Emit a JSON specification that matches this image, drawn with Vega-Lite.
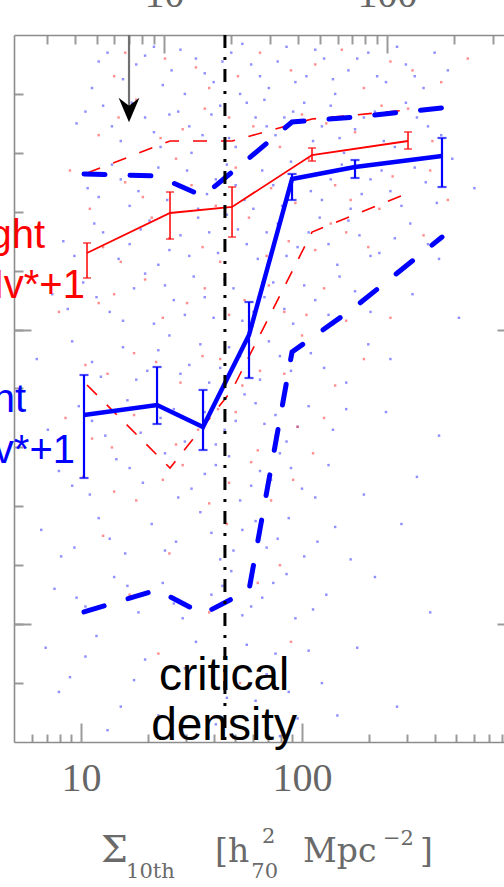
{
"$schema":"https://vega.github.io/schema/vega-lite/v6.json",
"autosize":"none","width":490,"height":707,
"padding":{"left":14,"top":35,"right":0,"bottom":145},
"background":"white",
"config":{"view":{"stroke":null},"axis":{"domainColor":"#8c8c8c","domainWidth":1.6,"tickColor":"#9a9a9a","tickWidth":2,"grid":false,"title":null}},
"data":{"values":[{}]},
"datasets":{
"dots":[
{"g":"b","lx":1.12,"y":1.47},{"g":"b","lx":1.25,"y":1.45},{"g":"b","lx":1.33,"y":1.48},{"g":"b","lx":1.41,"y":1.44},{"g":"b","lx":1.52,"y":1.46},{"g":"b","lx":1.60,"y":1.42},{"g":"b","lx":1.68,"y":1.47},{"g":"b","lx":1.77,"y":1.45},{"g":"b","lx":1.85,"y":1.41},{"g":"b","lx":1.93,"y":1.48},{"g":"b","lx":2.02,"y":1.43},{"g":"b","lx":2.10,"y":1.46},{"g":"b","lx":2.21,"y":1.44},{"g":"b","lx":2.30,"y":1.47},{"g":"b","lx":2.38,"y":1.42},{"g":"b","lx":2.47,"y":1.45},{"g":"b","lx":2.55,"y":1.41},{"g":"b","lx":1.05,"y":1.41},{"g":"b","lx":1.47,"y":1.40},{"g":"b","lx":1.72,"y":1.40},{"g":"b","lx":2.15,"y":1.40},{"g":"b","lx":2.60,"y":1.47},
{"g":"b","lx":0.98,"y":1.35},{"g":"b","lx":1.10,"y":1.38},{"g":"b","lx":1.18,"y":1.32},{"g":"b","lx":1.29,"y":1.36},{"g":"b","lx":1.36,"y":1.31},{"g":"b","lx":1.44,"y":1.37},{"g":"b","lx":1.55,"y":1.33},{"g":"b","lx":1.63,"y":1.38},{"g":"b","lx":1.70,"y":1.31},{"g":"b","lx":1.79,"y":1.36},{"g":"b","lx":1.88,"y":1.33},{"g":"b","lx":1.96,"y":1.37},{"g":"b","lx":2.05,"y":1.32},{"g":"b","lx":2.13,"y":1.38},{"g":"b","lx":2.24,"y":1.34},{"g":"b","lx":2.33,"y":1.37},{"g":"b","lx":2.42,"y":1.31},{"g":"b","lx":2.52,"y":1.36},{"g":"b","lx":2.63,"y":1.33},{"g":"b","lx":1.50,"y":1.30},{"g":"b","lx":1.83,"y":1.39},{"g":"b","lx":2.19,"y":1.30},
{"g":"b","lx":1.03,"y":1.24},{"g":"b","lx":1.14,"y":1.28},{"g":"b","lx":1.22,"y":1.21},{"g":"b","lx":1.31,"y":1.26},{"g":"b","lx":1.39,"y":1.22},{"g":"b","lx":1.48,"y":1.27},{"g":"b","lx":1.57,"y":1.23},{"g":"b","lx":1.66,"y":1.28},{"g":"b","lx":1.74,"y":1.22},{"g":"b","lx":1.82,"y":1.27},{"g":"b","lx":1.91,"y":1.21},{"g":"b","lx":2.00,"y":1.26},{"g":"b","lx":2.09,"y":1.22},{"g":"b","lx":2.18,"y":1.28},{"g":"b","lx":2.27,"y":1.23},{"g":"b","lx":2.36,"y":1.27},{"g":"b","lx":2.45,"y":1.21},{"g":"b","lx":2.56,"y":1.25},{"g":"b","lx":2.68,"y":1.29},{"g":"b","lx":2.78,"y":1.24},
{"g":"b","lx":0.92,"y":1.15},{"g":"b","lx":1.06,"y":1.18},{"g":"b","lx":1.17,"y":1.12},{"g":"b","lx":1.27,"y":1.17},{"g":"b","lx":1.35,"y":1.11},{"g":"b","lx":1.45,"y":1.16},{"g":"b","lx":1.53,"y":1.19},{"g":"b","lx":1.62,"y":1.13},{"g":"b","lx":1.71,"y":1.17},{"g":"b","lx":1.80,"y":1.12},{"g":"b","lx":1.89,"y":1.18},{"g":"b","lx":1.98,"y":1.14},{"g":"b","lx":2.08,"y":1.19},{"g":"b","lx":2.16,"y":1.11},{"g":"b","lx":2.26,"y":1.16},{"g":"b","lx":2.35,"y":1.13},{"g":"b","lx":2.49,"y":1.18},{"g":"b","lx":2.62,"y":1.12},
{"g":"b","lx":0.87,"y":1.06},{"g":"b","lx":1.01,"y":1.08},{"g":"b","lx":1.13,"y":1.03},{"g":"b","lx":1.24,"y":1.07},{"g":"b","lx":1.33,"y":1.01},{"g":"b","lx":1.42,"y":1.05},{"g":"b","lx":1.51,"y":1.09},{"g":"b","lx":1.60,"y":1.02},{"g":"b","lx":1.69,"y":1.07},{"g":"b","lx":1.78,"y":1.03},{"g":"b","lx":1.87,"y":1.08},{"g":"b","lx":1.96,"y":1.01},{"g":"b","lx":2.06,"y":1.05},{"g":"b","lx":2.17,"y":1.09},{"g":"b","lx":2.31,"y":1.03},{"g":"b","lx":2.50,"y":1.06},{"g":"b","lx":2.71,"y":1.02},
{"g":"b","lx":0.80,"y":0.95},{"g":"b","lx":0.96,"y":0.98},{"g":"b","lx":1.09,"y":0.92},{"g":"b","lx":1.19,"y":0.97},{"g":"b","lx":1.30,"y":0.93},{"g":"b","lx":1.40,"y":0.99},{"g":"b","lx":1.49,"y":0.94},{"g":"b","lx":1.58,"y":0.91},{"g":"b","lx":1.67,"y":0.97},{"g":"b","lx":1.76,"y":0.92},{"g":"b","lx":1.85,"y":0.98},{"g":"b","lx":1.95,"y":0.93},{"g":"b","lx":2.04,"y":0.96},{"g":"b","lx":2.20,"y":0.91},{"g":"b","lx":2.40,"y":0.95},
{"g":"b","lx":0.85,"y":0.83},{"g":"b","lx":0.99,"y":0.87},{"g":"b","lx":1.11,"y":0.82},{"g":"b","lx":1.21,"y":0.88},{"g":"b","lx":1.36,"y":0.85},{"g":"b","lx":1.47,"y":0.81},{"g":"b","lx":1.56,"y":0.86},{"g":"b","lx":1.65,"y":0.83},{"g":"b","lx":1.74,"y":0.89},{"g":"b","lx":1.83,"y":0.84},{"g":"b","lx":1.93,"y":0.81},{"g":"b","lx":2.03,"y":0.87},{"g":"b","lx":2.14,"y":0.83},{"g":"b","lx":2.38,"y":0.86},{"g":"b","lx":2.62,"y":0.82},
{"g":"b","lx":0.90,"y":0.76},{"g":"b","lx":1.04,"y":0.72},{"g":"b","lx":1.16,"y":0.78},{"g":"b","lx":1.28,"y":0.74},{"g":"b","lx":1.38,"y":0.79},{"g":"b","lx":1.50,"y":0.73},{"g":"b","lx":1.61,"y":0.77},{"g":"b","lx":1.72,"y":0.71},{"g":"b","lx":1.81,"y":0.76},{"g":"b","lx":1.90,"y":0.79},{"g":"b","lx":2.00,"y":0.73},{"g":"b","lx":2.12,"y":0.77},{"g":"b","lx":2.28,"y":0.72},{"g":"b","lx":2.52,"y":0.75},
{"g":"b","lx":0.82,"y":0.66},{"g":"b","lx":0.97,"y":0.63},{"g":"b","lx":1.08,"y":0.68},{"g":"b","lx":1.20,"y":0.62},{"g":"b","lx":1.32,"y":0.67},{"g":"b","lx":1.43,"y":0.64},{"g":"b","lx":1.54,"y":0.69},{"g":"b","lx":1.63,"y":0.61},{"g":"b","lx":1.73,"y":0.66},{"g":"b","lx":1.84,"y":0.63},{"g":"b","lx":1.94,"y":0.68},{"g":"b","lx":2.07,"y":0.64},{"g":"b","lx":2.22,"y":0.61},{"g":"b","lx":2.45,"y":0.67},
{"g":"b","lx":0.88,"y":0.56},{"g":"b","lx":1.02,"y":0.53},{"g":"b","lx":1.15,"y":0.58},{"g":"b","lx":1.26,"y":0.52},{"g":"b","lx":1.37,"y":0.57},{"g":"b","lx":1.46,"y":0.51},{"g":"b","lx":1.59,"y":0.55},{"g":"b","lx":1.68,"y":0.59},{"g":"b","lx":1.77,"y":0.53},{"g":"b","lx":1.87,"y":0.57},{"g":"b","lx":1.97,"y":0.51},{"g":"b","lx":2.11,"y":0.55},{"g":"b","lx":2.33,"y":0.58},{"g":"b","lx":2.58,"y":0.52},
{"g":"b","lx":0.84,"y":0.46},{"g":"b","lx":0.95,"y":0.41},{"g":"b","lx":1.07,"y":0.48},{"g":"b","lx":1.18,"y":0.36},{"g":"b","lx":1.29,"y":0.44},{"g":"b","lx":1.41,"y":0.39},{"g":"b","lx":1.52,"y":0.47},{"g":"b","lx":1.61,"y":0.33},{"g":"b","lx":1.70,"y":0.42},{"g":"b","lx":1.79,"y":0.37},{"g":"b","lx":1.88,"y":0.45},{"g":"b","lx":1.98,"y":0.34},{"g":"b","lx":2.09,"y":0.40},{"g":"b","lx":2.25,"y":0.46},{"g":"b","lx":2.43,"y":0.36},{"g":"b","lx":1.12,"y":0.32},{"g":"b","lx":1.55,"y":0.40},{"g":"b","lx":1.90,"y":0.31},
{"g":"b","lx":1.08,"y":1.455},{"g":"b","lx":1.19,"y":1.425},{"g":"b","lx":1.29,"y":1.465},{"g":"b","lx":1.37,"y":1.415},{"g":"b","lx":1.45,"y":1.475},{"g":"b","lx":1.56,"y":1.435},{"g":"b","lx":1.64,"y":1.455},{"g":"b","lx":1.73,"y":1.485},{"g":"b","lx":1.81,"y":1.43},{"g":"b","lx":1.89,"y":1.455},{"g":"b","lx":1.97,"y":1.42},{"g":"b","lx":2.06,"y":1.475},{"g":"b","lx":2.14,"y":1.425},{"g":"b","lx":2.25,"y":1.46},{"g":"b","lx":2.34,"y":1.43},{"g":"b","lx":2.43,"y":1.48},{"g":"b","lx":2.51,"y":1.43},{"g":"b","lx":2.66,"y":1.44},
{"g":"b","lx":1.02,"y":1.37},{"g":"b","lx":1.14,"y":1.345},{"g":"b","lx":1.23,"y":1.385},{"g":"b","lx":1.33,"y":1.335},{"g":"b","lx":1.40,"y":1.365},{"g":"b","lx":1.49,"y":1.345},{"g":"b","lx":1.59,"y":1.365},{"g":"b","lx":1.67,"y":1.325},{"g":"b","lx":1.75,"y":1.385},{"g":"b","lx":1.84,"y":1.345},{"g":"b","lx":1.92,"y":1.36},{"g":"b","lx":2.01,"y":1.385},{"g":"b","lx":2.09,"y":1.345},{"g":"b","lx":2.17,"y":1.325},{"g":"b","lx":2.28,"y":1.36},{"g":"b","lx":2.37,"y":1.32},{"g":"b","lx":2.47,"y":1.385},{"g":"b","lx":2.57,"y":1.345},
{"g":"b","lx":1.08,"y":1.225},{"g":"b","lx":1.18,"y":1.255},{"g":"b","lx":1.26,"y":1.235},{"g":"b","lx":1.35,"y":1.275},{"g":"b","lx":1.44,"y":1.245},{"g":"b","lx":1.53,"y":1.205},{"g":"b","lx":1.61,"y":1.255},{"g":"b","lx":1.70,"y":1.245},{"g":"b","lx":1.78,"y":1.205},{"g":"b","lx":1.87,"y":1.245},{"g":"b","lx":1.95,"y":1.285},{"g":"b","lx":2.04,"y":1.235},{"g":"b","lx":2.13,"y":1.255},{"g":"b","lx":2.22,"y":1.205},{"g":"b","lx":2.31,"y":1.255},{"g":"b","lx":2.40,"y":1.235},{"g":"b","lx":2.51,"y":1.275},{"g":"b","lx":2.61,"y":1.215},
{"g":"b","lx":0.97,"y":1.125},{"g":"b","lx":1.10,"y":1.165},{"g":"b","lx":1.22,"y":1.145},{"g":"b","lx":1.31,"y":1.185},{"g":"b","lx":1.40,"y":1.135},{"g":"b","lx":1.49,"y":1.125},{"g":"b","lx":1.58,"y":1.165},{"g":"b","lx":1.66,"y":1.195},{"g":"b","lx":1.75,"y":1.145},{"g":"b","lx":1.84,"y":1.165},{"g":"b","lx":1.93,"y":1.125},{"g":"b","lx":2.03,"y":1.165},{"g":"b","lx":2.12,"y":1.145},{"g":"b","lx":2.21,"y":1.185},{"g":"b","lx":2.31,"y":1.125},{"g":"b","lx":2.42,"y":1.155},{"g":"b","lx":2.57,"y":1.145},
{"g":"b","lx":0.94,"y":1.035},{"g":"b","lx":1.07,"y":1.055},{"g":"b","lx":1.19,"y":1.015},{"g":"b","lx":1.29,"y":1.095},{"g":"b","lx":1.38,"y":1.075},{"g":"b","lx":1.47,"y":1.025},{"g":"b","lx":1.56,"y":1.055},{"g":"b","lx":1.65,"y":1.085},{"g":"b","lx":1.73,"y":1.015},{"g":"b","lx":1.83,"y":1.055},{"g":"b","lx":1.92,"y":1.035},{"g":"b","lx":2.01,"y":1.075},{"g":"b","lx":2.12,"y":1.025},{"g":"b","lx":2.24,"y":1.065},
{"g":"b","lx":1.05,"y":0.945},{"g":"b","lx":1.25,"y":0.915},{"g":"b","lx":1.35,"y":0.965},{"g":"b","lx":1.45,"y":0.925},{"g":"b","lx":1.54,"y":0.975},{"g":"b","lx":1.63,"y":0.935},{"g":"b","lx":1.72,"y":0.955},{"g":"b","lx":1.81,"y":0.915},{"g":"b","lx":1.90,"y":0.955},{"g":"b","lx":2.10,"y":0.935},{"g":"b","lx":2.30,"y":0.975},
{"g":"b","lx":1.05,"y":0.845},{"g":"b","lx":1.27,"y":0.825},{"g":"b","lx":1.42,"y":0.865},{"g":"b","lx":1.61,"y":0.805},{"g":"b","lx":1.70,"y":0.845},{"g":"b","lx":1.79,"y":0.875},{"g":"b","lx":1.88,"y":0.855},{"g":"b","lx":1.98,"y":0.835},{"g":"b","lx":2.20,"y":0.865},
{"g":"b","lx":0.96,"y":0.735},{"g":"b","lx":1.22,"y":0.765},{"g":"b","lx":1.44,"y":0.715},{"g":"b","lx":1.56,"y":0.755},{"g":"b","lx":1.67,"y":0.785},{"g":"b","lx":1.77,"y":0.735},{"g":"b","lx":1.86,"y":0.745},{"g":"b","lx":1.95,"y":0.765},{"g":"b","lx":2.06,"y":0.715},
{"g":"b","lx":0.91,"y":0.615},{"g":"b","lx":1.13,"y":0.645},{"g":"b","lx":1.38,"y":0.625},{"g":"b","lx":1.59,"y":0.655},{"g":"b","lx":1.69,"y":0.625},{"g":"b","lx":1.79,"y":0.675},{"g":"b","lx":1.89,"y":0.645},{"g":"b","lx":2.01,"y":0.615},{"g":"b","lx":2.15,"y":0.665},
{"g":"b","lx":0.98,"y":0.545},{"g":"b","lx":1.21,"y":0.565},{"g":"b","lx":1.42,"y":0.535},{"g":"b","lx":1.64,"y":0.565},{"g":"b","lx":1.73,"y":0.515},{"g":"b","lx":1.82,"y":0.545},{"g":"b","lx":1.93,"y":0.585},{"g":"b","lx":2.05,"y":0.525},
{"g":"b","lx":0.90,"y":0.385},{"g":"b","lx":1.02,"y":0.445},{"g":"b","lx":1.24,"y":0.405},{"g":"b","lx":1.35,"y":0.345},{"g":"b","lx":1.47,"y":0.425},{"g":"b","lx":1.66,"y":0.375},{"g":"b","lx":1.75,"y":0.465},{"g":"b","lx":1.84,"y":0.415},{"g":"b","lx":1.94,"y":0.385},{"g":"b","lx":2.03,"y":0.455},{"g":"b","lx":2.16,"y":0.345},
{"g":"r","lx":1.15,"y":1.43},{"g":"r","lx":1.38,"y":1.46},{"g":"r","lx":1.58,"y":1.41},{"g":"r","lx":1.81,"y":1.47},{"g":"r","lx":2.06,"y":1.45},{"g":"r","lx":2.28,"y":1.41},{"g":"r","lx":2.50,"y":1.44},{"g":"r","lx":2.75,"y":1.46},{"g":"r","lx":1.08,"y":1.33},{"g":"r","lx":1.25,"y":1.39},{"g":"r","lx":1.46,"y":1.34},{"g":"r","lx":1.67,"y":1.36},{"g":"r","lx":1.90,"y":1.31},{"g":"r","lx":2.11,"y":1.35},{"g":"r","lx":2.36,"y":1.38},{"g":"r","lx":2.59,"y":1.32},
{"g":"r","lx":0.95,"y":1.27},{"g":"r","lx":1.20,"y":1.25},{"g":"r","lx":1.43,"y":1.29},{"g":"r","lx":1.61,"y":1.21},{"g":"r","lx":1.86,"y":1.24},{"g":"r","lx":2.03,"y":1.29},{"g":"r","lx":2.22,"y":1.22},{"g":"r","lx":2.41,"y":1.26},{"g":"r","lx":2.66,"y":1.22},{"g":"r","lx":1.10,"y":1.14},{"g":"r","lx":1.32,"y":1.19},{"g":"r","lx":1.55,"y":1.14},{"g":"r","lx":1.76,"y":1.19},{"g":"r","lx":1.94,"y":1.15},{"g":"r","lx":2.13,"y":1.18},{"g":"r","lx":2.30,"y":1.14},{"g":"r","lx":2.55,"y":1.16},
{"g":"r","lx":0.90,"y":1.03},{"g":"r","lx":1.15,"y":1.06},{"g":"r","lx":1.37,"y":1.02},{"g":"r","lx":1.56,"y":1.07},{"g":"r","lx":1.74,"y":1.05},{"g":"r","lx":1.92,"y":1.03},{"g":"r","lx":2.10,"y":1.07},{"g":"r","lx":2.40,"y":1.02},{"g":"r","lx":1.02,"y":0.94},{"g":"r","lx":1.24,"y":0.96},{"g":"r","lx":1.45,"y":0.91},{"g":"r","lx":1.63,"y":0.95},{"g":"r","lx":1.81,"y":0.93},{"g":"r","lx":2.00,"y":0.99},{"g":"r","lx":2.28,"y":0.95},
{"g":"r","lx":0.93,"y":0.85},{"g":"r","lx":1.14,"y":0.80},{"g":"r","lx":1.33,"y":0.87},{"g":"r","lx":1.53,"y":0.83},{"g":"r","lx":1.70,"y":0.86},{"g":"r","lx":1.88,"y":0.82},{"g":"r","lx":2.10,"y":0.85},{"g":"r","lx":1.01,"y":0.75},{"g":"r","lx":1.25,"y":0.71},{"g":"r","lx":1.46,"y":0.77},{"g":"r","lx":1.67,"y":0.74},{"g":"r","lx":1.86,"y":0.71},{"g":"r","lx":2.05,"y":0.79},
{"g":"r","lx":1.10,"y":0.65},{"g":"r","lx":1.40,"y":0.62},{"g":"r","lx":1.66,"y":0.67},{"g":"r","lx":1.90,"y":0.60},{"g":"r","lx":1.22,"y":0.55},{"g":"r","lx":1.58,"y":0.52},{"g":"r","lx":1.80,"y":0.57},{"g":"r","lx":1.35,"y":0.45},{"g":"r","lx":1.72,"y":0.40},{"g":"r","lx":1.95,"y":0.47},
{"g":"r","lx":1.20,"y":1.47},{"g":"r","lx":1.52,"y":1.445},{"g":"r","lx":1.71,"y":1.43},{"g":"r","lx":1.95,"y":1.44},{"g":"r","lx":2.18,"y":1.475},{"g":"r","lx":2.40,"y":1.455},{"g":"r","lx":2.63,"y":1.42},
{"g":"r","lx":1.17,"y":1.36},{"g":"r","lx":1.36,"y":1.325},{"g":"r","lx":1.56,"y":1.375},{"g":"r","lx":1.78,"y":1.345},{"g":"r","lx":2.00,"y":1.365},{"g":"r","lx":2.24,"y":1.335},{"g":"r","lx":2.48,"y":1.375},
{"g":"r","lx":1.04,"y":1.205},{"g":"r","lx":1.28,"y":1.225},{"g":"r","lx":1.50,"y":1.245},{"g":"r","lx":1.70,"y":1.275},{"g":"r","lx":1.97,"y":1.215},{"g":"r","lx":2.15,"y":1.245},{"g":"r","lx":2.35,"y":1.205},{"g":"r","lx":2.58,"y":1.27},
{"g":"r","lx":1.18,"y":1.115},{"g":"r","lx":1.40,"y":1.155},{"g":"r","lx":1.63,"y":1.115},{"g":"r","lx":1.84,"y":1.125},{"g":"r","lx":2.06,"y":1.135},{"g":"r","lx":2.20,"y":1.165},
{"g":"r","lx":1.08,"y":1.045},{"g":"r","lx":1.29,"y":1.085},{"g":"r","lx":1.48,"y":1.045},{"g":"r","lx":1.67,"y":1.025},{"g":"r","lx":1.85,"y":1.075},{"g":"r","lx":2.02,"y":1.025},{"g":"r","lx":2.20,"y":1.015},
{"g":"r","lx":1.12,"y":0.925},{"g":"r","lx":1.34,"y":0.945},{"g":"r","lx":1.55,"y":0.955},{"g":"r","lx":1.73,"y":0.905},{"g":"r","lx":1.92,"y":0.925},{"g":"r","lx":2.15,"y":0.905},
{"g":"r","lx":1.05,"y":0.815},{"g":"r","lx":1.24,"y":0.855},{"g":"r","lx":1.43,"y":0.805},{"g":"r","lx":1.62,"y":0.865},{"g":"r","lx":1.80,"y":0.795},{"g":"r","lx":1.98,"y":0.835},
{"g":"r","lx":1.15,"y":0.725},{"g":"r","lx":1.37,"y":0.745},{"g":"r","lx":1.58,"y":0.705},{"g":"r","lx":1.77,"y":0.775},{"g":"r","lx":1.96,"y":0.745}
],
"redSolid":[{"x":10.645,"y":1.13,"lo":1.0876,"hi":1.147},{"x":25.28,"y":1.1979,"lo":1.1537,"hi":1.2335},{"x":48.24,"y":1.2081,"lo":1.1571,"hi":1.242},{"x":110.99,"y":1.2963,"lo":1.2861,"hi":1.3082},{"x":301.8,"y":1.3201,"lo":1.3065,"hi":1.3354}],
"blueSolid":[{"x":10.317,"y":0.855,"lo":0.7481,"hi":0.9229},{"x":22.08,"y":0.872,"lo":0.8398,"hi":0.9365},{"x":35.65,"y":0.8347,"lo":0.7956,"hi":0.8975},{"x":57.57,"y":0.9908,"lo":0.9178,"hi":1.0468},{"x":90.12,"y":1.2556,"lo":1.22,"hi":1.2641},{"x":173.7,"y":1.276,"lo":1.2573,"hi":1.2878},{"x":430.0,"y":1.2946,"lo":1.242,"hi":1.3252}],
"redDashed":[{"s":"upper","x":10.645,"y":1.2658},{"s":"upper","x":25.28,"y":1.3201},{"s":"upper","x":48.24,"y":1.3201},{"s":"upper","x":110.99,"y":1.3574},{"s":"upper","x":301.8,"y":1.3727},{"s":"lower","x":10.645,"y":0.9059},{"s":"lower","x":25.28,"y":0.7651},{"s":"lower","x":48.24,"y":0.8975},{"s":"lower","x":110.99,"y":1.1656},{"s":"lower","x":301.8,"y":1.2318}],
"blueDashed":[{"s":"upper","x":10.317,"y":1.2641},{"s":"upper","x":22.08,"y":1.2607},{"s":"upper","x":35.65,"y":1.2267},{"s":"upper","x":57.57,"y":1.291},{"s":"upper","x":90.12,"y":1.3523},{"s":"upper","x":173.7,"y":1.3608},{"s":"upper","x":430.0,"y":1.3761},{"s":"lower","x":10.317,"y":0.5207},{"s":"lower","x":22.08,"y":0.558},{"s":"lower","x":35.65,"y":0.5173},{"s":"lower","x":57.57,"y":0.558},{"s":"lower","x":90.12,"y":0.962},{"s":"lower","x":173.7,"y":1.0383},{"s":"lower","x":430.0,"y":1.1571}],
"redLabels":[{"t":"bright","x":6.873,"y":1.1385},{"t":"Mv<Mv*+1","x":10.42,"y":1.0536}],
"blueLabels":[{"t":"faint","x":5.638,"y":0.8601},{"t":"Mv>Mv*+1","x":9.395,"y":0.7736}],
"titleBig":[{"t":"[h","x":40.4,"y":0.0963},{"t":"Mpc","x":101.05,"y":0.0963},{"t":"]","x":342.0,"y":0.0963}],
"titleSigma":[{"t":"Σ","x":12.3,"y":0.0963}],
"titleSmall":[{"t":"10th","x":16.0,"y":0.0692},{"t":"70","x":59.0,"y":0.0692},{"t":"2","x":65.9,"y":0.1286},{"t":"−2","x":232.5,"y":0.1252}]
},
"resolve":{"scale":{"x":"independent","y":"independent"},"axis":{"x":"independent","y":"independent"}},
"layer":[
{"data":{"name":"dots"},"mark":{"type":"point","shape":"square","filled":true,"size":6,"opacity":0.62},
 "encoding":{"x":{"field":"lx","type":"quantitative","scale":{"domain":[0.6968,2.914],"nice":false,"zero":false},"axis":null},
 "y":{"field":"y","type":"quantitative","scale":{"domain":[0.3,1.5],"nice":false,"zero":false},"axis":null},
 "color":{"field":"g","type":"nominal","scale":{"domain":["b","r"],"range":["#4a4aff","#ff4a4a"]},"legend":null}}},
{"data":{"name":"redDashed"},"mark":{"type":"line","color":"#ff0000","strokeWidth":1.6,"strokeDash":[14,14]},
 "encoding":{"x":{"field":"x","type":"quantitative","scale":{"type":"log","domain":[4.975,820.4],"nice":false},"axis":{"orient":"bottom","values":[6,7,8,9,20,30,40,50,60,70,80,90,200,300,400,500,600,700,800],"tickSize":-8,"labels":false,"domain":true,"title":null}},
 "y":{"field":"y","type":"quantitative","scale":{"domain":[0.3,1.5],"nice":false,"zero":false},"axis":{"orient":"left","values":[0.4,0.5,0.6,0.7,0.8,0.9,1.0,1.1,1.2,1.3,1.4],"tickSize":-9,"labels":false,"domain":true,"title":null}},
 "detail":{"field":"s"}}},
{"data":{"name":"redSolid"},"mark":{"type":"line","color":"#ff0000","strokeWidth":1.8},
 "encoding":{"x":{"field":"x","type":"quantitative","scale":{"type":"log","domain":[4.975,820.4],"nice":false},"axis":{"orient":"bottom","values":[10,100],"tickSize":-19,"labels":false,"domain":false,"title":null}},
 "y":{"field":"y","type":"quantitative","scale":{"domain":[0.3,1.5],"nice":false,"zero":false},"axis":{"orient":"left","values":[0.5,1.0],"tickSize":-17,"labels":false,"domain":false,"title":null}}}},
{"data":{"name":"redSolid"},"mark":{"type":"rule","color":"#ff0000","strokeWidth":1.5},
 "encoding":{"x":{"field":"x","type":"quantitative","scale":{"type":"log","domain":[4.975,820.4],"nice":false},"axis":null},
 "y":{"field":"lo","type":"quantitative","scale":{"domain":[0.3,1.5],"nice":false,"zero":false},"axis":null},"y2":{"field":"hi"}}},
{"data":{"name":"redSolid"},"transform":[{"fold":["lo","hi"],"as":["k","v"]}],"mark":{"type":"tick","orient":"horizontal","color":"#ff0000","size":8,"thickness":1.6},
 "encoding":{"x":{"field":"x","type":"quantitative","scale":{"type":"log","domain":[4.975,820.4],"nice":false},"axis":null},
 "y":{"field":"v","type":"quantitative","scale":{"domain":[0.3,1.5],"nice":false,"zero":false},"axis":null}}},
{"data":{"name":"blueDashed"},"mark":{"type":"line","color":"#0000ff","strokeWidth":5,"strokeDash":[21,25],"strokeCap":"round"},
 "encoding":{"x":{"field":"x","type":"quantitative","scale":{"type":"log","domain":[4.975,820.4],"nice":false},"axis":null},
 "y":{"field":"y","type":"quantitative","scale":{"domain":[0.3,1.5],"nice":false,"zero":false},"axis":null},"detail":{"field":"s"}}},
{"data":{"name":"blueSolid"},"mark":{"type":"line","color":"#0000ff","strokeWidth":4.5},
 "encoding":{"x":{"field":"x","type":"quantitative","scale":{"type":"log","domain":[4.975,820.4],"nice":false},"axis":{"orient":"bottom","values":[10,100],"ticks":false,"domain":false,"labels":true,"labelPadding":48,"labelBaseline":"alphabetic","labelFont":"Liberation Serif","labelFontSize":40,"labelColor":"#666666","labelFlush":false,"labelOverlap":false,"title":null}},
 "y":{"field":"y","type":"quantitative","scale":{"domain":[0.3,1.5],"nice":false,"zero":false},"axis":{"orient":"right","values":[0.5,1.0],"tickSize":-7,"labels":false,"domain":false,"title":null}}}},
{"data":{"name":"blueSolid"},"mark":{"type":"rule","color":"#0000ff","strokeWidth":2.2},
 "encoding":{"x":{"field":"x","type":"quantitative","scale":{"type":"log","domain":[4.975,820.4],"nice":false},"axis":null},
 "y":{"field":"lo","type":"quantitative","scale":{"domain":[0.3,1.5],"nice":false,"zero":false},"axis":null},"y2":{"field":"hi"}}},
{"data":{"name":"blueSolid"},"transform":[{"fold":["lo","hi"],"as":["k","v"]}],"mark":{"type":"tick","orient":"horizontal","color":"#0000ff","size":9,"thickness":2.2},
 "encoding":{"x":{"field":"x","type":"quantitative","scale":{"type":"log","domain":[4.975,820.4],"nice":false},"axis":null},
 "y":{"field":"v","type":"quantitative","scale":{"domain":[0.3,1.5],"nice":false,"zero":false},"axis":null}}},
{"mark":{"type":"rule","color":"#000000","strokeWidth":3,"strokeDash":[13,9,3,9]},
 "encoding":{"x":{"datum":44.8,"type":"quantitative","scale":{"type":"log","domain":[4.975,820.4],"nice":false},"axis":null}}},
{"mark":{"type":"rule","color":"#707070","strokeWidth":2.2},
 "encoding":{"x":{"datum":16.49,"type":"quantitative","scale":{"type":"log","domain":[4.975,820.4],"nice":false},"axis":null},
 "y":{"datum":1.5,"type":"quantitative","scale":{"domain":[0.3,1.5],"nice":false,"zero":false},"axis":null},"y2":{"datum":1.37}}},
{"mark":{"type":"point","shape":"M0,1L-0.85,-1L0,-0.35L0.85,-1Z","filled":true,"color":"#000000","opacity":1,"size":600},
 "encoding":{"x":{"datum":16.49,"type":"quantitative","scale":{"type":"log","domain":[4.975,820.4],"nice":false},"axis":null},
 "y":{"datum":1.3727,"type":"quantitative","scale":{"domain":[0.3,1.5],"nice":false,"zero":false},"axis":null}}},
{"mark":{"type":"text","text":["critical","density"],"lineHeight":50,"font":"Liberation Sans","fontSize":46,"color":"#000000","align":"center","baseline":"alphabetic"},
 "encoding":{"x":{"datum":44.4,"type":"quantitative","scale":{"type":"log","domain":[4.975,820.4],"nice":false},"axis":null},
 "y":{"datum":0.3883,"type":"quantitative","scale":{"domain":[0.3,1.5],"nice":false,"zero":false},"axis":null}}},
{"data":{"name":"redLabels"},"mark":{"type":"text","font":"Liberation Sans","fontSize":40,"color":"#ff0000","align":"right","baseline":"alphabetic"},
 "encoding":{"text":{"field":"t"},"x":{"field":"x","type":"quantitative","scale":{"type":"log","domain":[4.975,820.4],"nice":false},"axis":null},
 "y":{"field":"y","type":"quantitative","scale":{"domain":[0.3,1.5],"nice":false,"zero":false},"axis":null}}},
{"data":{"name":"blueLabels"},"mark":{"type":"text","font":"Liberation Sans","fontSize":40,"color":"#0000ff","align":"right","baseline":"alphabetic"},
 "encoding":{"text":{"field":"t"},"x":{"field":"x","type":"quantitative","scale":{"type":"log","domain":[4.975,820.4],"nice":false},"axis":null},
 "y":{"field":"y","type":"quantitative","scale":{"domain":[0.3,1.5],"nice":false,"zero":false},"axis":null}}},
{"data":{"name":"titleSigma"},"mark":{"type":"text","font":"DejaVu Serif","fontSize":38,"color":"#6a6a6a","align":"left","baseline":"alphabetic"},
 "encoding":{"text":{"field":"t"},"x":{"field":"x","type":"quantitative","scale":{"type":"log","domain":[4.975,820.4],"nice":false},"axis":null},
 "y":{"field":"y","type":"quantitative","scale":{"domain":[0.3,1.5],"nice":false,"zero":false},"axis":null}}},
{"data":{"name":"titleBig"},"mark":{"type":"text","font":"DejaVu Serif","fontSize":33,"color":"#6a6a6a","align":"left","baseline":"alphabetic"},
 "encoding":{"text":{"field":"t"},"x":{"field":"x","type":"quantitative","scale":{"type":"log","domain":[4.975,820.4],"nice":false},"axis":null},
 "y":{"field":"y","type":"quantitative","scale":{"domain":[0.3,1.5],"nice":false,"zero":false},"axis":null}}},
{"data":{"name":"titleSmall"},"mark":{"type":"text","font":"DejaVu Serif","fontSize":21,"color":"#6a6a6a","align":"left","baseline":"alphabetic"},
 "encoding":{"text":{"field":"t"},"x":{"field":"x","type":"quantitative","scale":{"type":"log","domain":[4.975,820.4],"nice":false},"axis":null},
 "y":{"field":"y","type":"quantitative","scale":{"domain":[0.3,1.5],"nice":false,"zero":false},"axis":null}}},
{"mark":{"type":"point","opacity":0},
 "encoding":{"x":{"datum":10,"type":"quantitative","scale":{"type":"log","domain":[2.126,334.7],"nice":false},"axis":{"orient":"top","values":[3,4,5,6,7,8,9,20,30,40,50,60,70,80,90,200,300],"tickSize":-9,"labels":false,"domain":true,"title":null}}}},
{"mark":{"type":"point","opacity":0},
 "encoding":{"x":{"datum":10,"type":"quantitative","scale":{"type":"log","domain":[2.126,334.7],"nice":false},"axis":{"orient":"top","values":[10,100],"tickSize":-18,"labels":false,"domain":false,"title":null}}}},
{"mark":{"type":"point","opacity":0},
 "encoding":{"x":{"datum":10,"type":"quantitative","scale":{"type":"log","domain":[2.126,334.7],"nice":false},"axis":{"orient":"top","values":[10,100],"ticks":false,"domain":false,"labels":true,"labelPadding":29,"labelBaseline":"alphabetic","labelFont":"Liberation Serif","labelFontSize":40,"labelColor":"#666666","labelFlush":false,"labelOverlap":false,"title":null}}}}
]
}
